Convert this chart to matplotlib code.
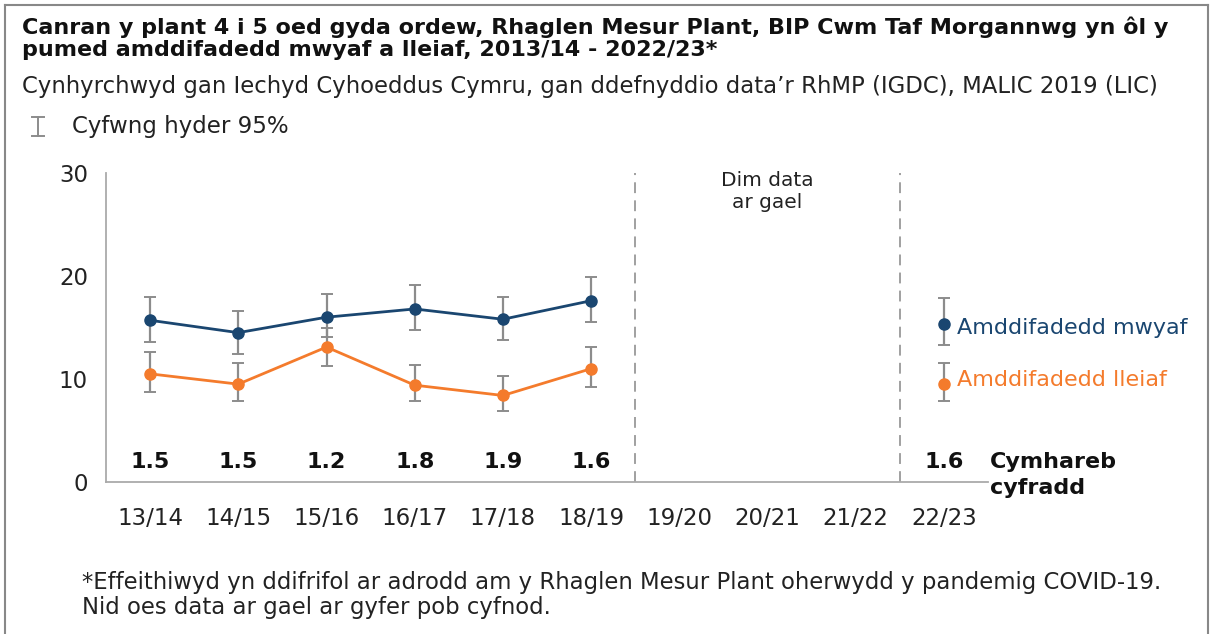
import numpy as np
import matplotlib
matplotlib.use('Agg')
import matplotlib.pyplot as plt
from matplotlib.lines import Line2D

# data
years = ['13/14', '14/15', '15/16', '16/17', '17/18', '18/19', '19/20', '20/21', '21/22', '22/23']
most_deprived = [15.7, 14.5, 16.0, 16.8, 15.8, 17.6, np.nan, np.nan, np.nan, 15.3]
most_low = [13.6, 12.4, 14.1, 14.8, 13.8, 15.5, np.nan, np.nan, np.nan, 13.3]
most_high = [18.0, 16.6, 18.3, 19.1, 18.0, 19.9, np.nan, np.nan, np.nan, 17.9]
least_deprived = [10.5, 9.5, 13.1, 9.4, 8.4, 11.0, np.nan, np.nan, np.nan, 9.5]
least_low = [8.7, 7.9, 11.3, 7.9, 6.9, 9.2, np.nan, np.nan, np.nan, 7.9]
least_high = [12.6, 11.6, 15.0, 11.4, 10.3, 13.1, np.nan, np.nan, np.nan, 11.6]
rate_ratio = ['1.5', '1.5', '1.2', '1.8', '1.9', '1.6', '', '', '', '1.6']

BLUE = '#1a4670'
ORANGE = '#f47b2c'
GREY = '#8c8c8c'
NARROW = ['DejaVu Sans Condensed', 'DejaVu Sans']

plt.rcParams['font.family'] = ['DejaVu Sans']

fig = plt.figure(figsize=(12.11, 6.34), dpi=100)
W, H = 1211, 634
ax = fig.add_axes([106 / W, 1 - 482 / H, (988 - 106) / W, (482 - 173) / H])

x = np.arange(len(years))

def draw_series(vals, lo, hi, color):
    vals = np.array(vals)
    err = np.vstack([vals - np.array(lo), np.array(hi) - vals])
    ax.errorbar(x, vals, yerr=err, fmt='none', ecolor=GREY, elinewidth=1.6,
                capsize=4, capthick=1.4, zorder=2)
    ax.plot(x, vals, color=color, lw=2, marker='o', ms=8, zorder=3)

draw_series(most_deprived, most_low, most_high, BLUE)
draw_series(least_deprived, least_low, least_high, ORANGE)

# no data gap
for xv in (5.5, 8.5):
    ax.axvline(xv, color='#999999', lw=1.3, ls=(0, (6, 4)), zorder=1)
ax.text(7, 28.2, 'Dim data\nar gael', ha='center', va='center', fontsize=14.5,
        color='#222222', linespacing=1.15)

# rate ratio row
for xi, r in zip(x, rate_ratio):
    if r:
        ax.text(xi, 1.9, r, ha='center', va='center', fontsize=16,
                fontweight='bold', color='#111111')
ax.text(9.52, 1.9, 'Cymhareb', ha='left', va='center', fontsize=16,
        fontweight='bold', color='#111111', clip_on=False)
ax.text(9.52, -0.55, 'cyfradd', ha='left', va='center', fontsize=16,
        fontweight='bold', color='#111111', clip_on=False)

# series labels
ax.text(9.15, 15.0, 'Amddifadedd mwyaf', color=BLUE, fontsize=16,
        ha='left', va='center', clip_on=False)
ax.text(9.15, 9.9, 'Amddifadedd lleiaf', color=ORANGE, fontsize=16,
        ha='left', va='center', clip_on=False)

ax.set_xlim(-0.5, 9.5)
ax.set_ylim(0, 30)
ax.set_yticks([0, 10, 20, 30])
ax.set_xticks(x)
ax.set_xticklabels(years, family=NARROW, fontsize=16.5, color='#222222')
for lbl in ax.get_yticklabels():
    lbl.set_family(NARROW)
    lbl.set_fontsize(16.5)
    lbl.set_color('#222222')
ax.tick_params(axis='both', length=0)
ax.tick_params(axis='x', pad=18)
ax.tick_params(axis='y', pad=13)
for side in ('top', 'right'):
    ax.spines[side].set_visible(False)
for side in ('left', 'bottom'):
    ax.spines[side].set_color('#aaaaaa')
    ax.spines[side].set_linewidth(1.3)

# titles
fig.text(22 / W, 1 - 17 / H, 'Canran y plant 4 i 5 oed gyda ordew, Rhaglen Mesur Plant, BIP Cwm Taf Morgannwg yn ôl y\n'
         'pumed amddifadedd mwyaf a lleiaf, 2013/14 - 2022/23*',
         fontsize=16, fontweight='bold', va='top', ha='left', color='#111111',
         linespacing=1.12)
fig.text(22 / W, 1 - 86 / H, 'Cynhyrchwyd gan Iechyd Cyhoeddus Cymru, gan ddefnyddio data\u2019r RhMP (IGDC), MALIC 2019 (LIC)',
         fontsize=16.4, va='center', ha='left', color='#222222')

# CI legend
fig.add_artist(Line2D([38 / W, 38 / W], [1 - 117 / H, 1 - 136 / H], color=GREY, lw=1.4))
for yy in (117, 136):
    fig.add_artist(Line2D([32 / W, 44 / W], [1 - yy / H, 1 - yy / H], color=GREY, lw=1.4))
fig.text(72 / W, 1 - 127 / H, 'Cyfwng hyder 95%', fontsize=16.5, va='center', ha='left', color='#222222')

# footnote
fig.text(82 / W, 1 - 595 / H, '*Effeithiwyd yn ddifrifol ar adrodd am y Rhaglen Mesur Plant oherwydd y pandemig COVID-19.\n'
         'Nid oes data ar gael ar gyfer pob cyfnod.', family=NARROW, fontsize=16.4,
         va='center', ha='left', color='#222222', linespacing=1.15)

# outer frame
for xs, ys in (([5 / W, 5 / W], [0, 1 - 5 / H]), ([5 / W, 1 - 3 / W], [1 - 5 / H, 1 - 5 / H]),
               ([1 - 3 / W, 1 - 3 / W], [0, 1 - 5 / H])):
    fig.add_artist(Line2D(xs, ys, color='#888888', lw=1.5))

fig.savefig('out.png', dpi=100)
